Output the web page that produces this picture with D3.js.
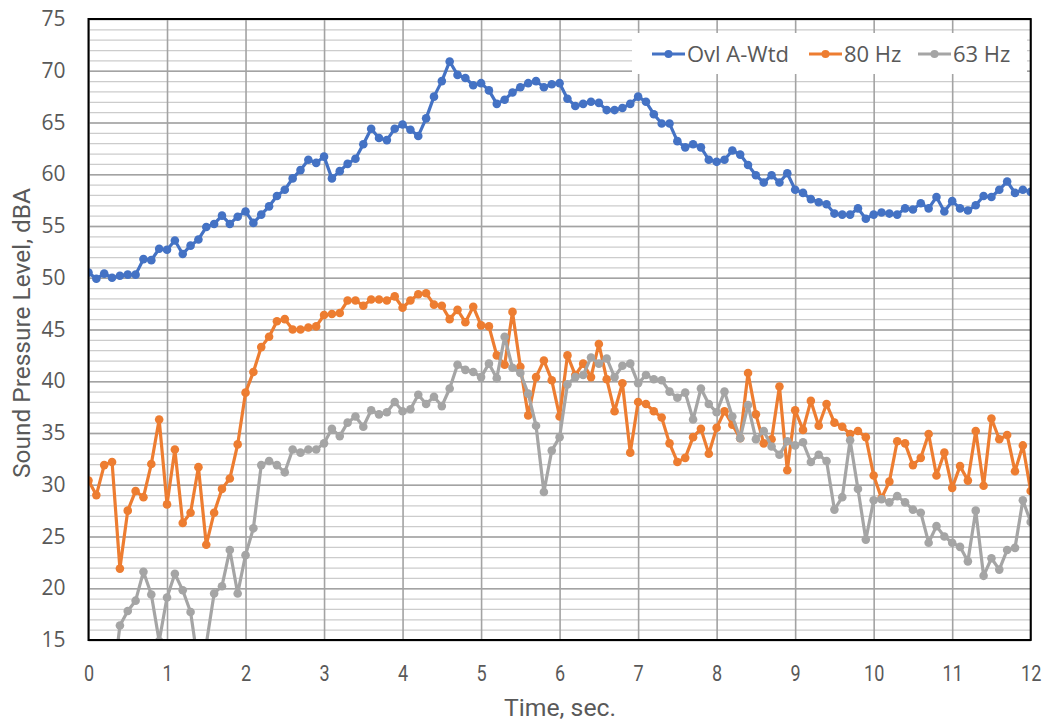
<!DOCTYPE html>
<html>
<head>
<meta charset="utf-8">
<script src="https://cdn.jsdelivr.net/npm/d3@7"></script>
<style>
  html, body { margin: 0; padding: 0; background: #fff; }
  svg { display: block; }
</style>
</head>
<body>
<svg id="chart" width="1048" height="724"></svg>
<script>
// Time axis: samples every 0.1 s from 0 to 12 s
const times = d3.range(121).map(i => +(i * 0.1).toFixed(1));

const seriesNames = ["Ovl A-Wtd", "80 Hz", "63 Hz"];
const seriesColors = ["#4472C4", "#ED7D31", "#A5A5A5"];

const ovlAWtd = [
  50.5, 49.9, 50.4, 50.0, 50.2, 50.3, 50.3, 51.8, 51.7, 52.8,
  52.7, 53.6, 52.3, 53.1, 53.7, 54.9, 55.2, 56.0, 55.2, 55.9,
  56.4, 55.3, 56.1, 56.9, 57.9, 58.5, 59.6, 60.4, 61.4, 61.1,
  61.7, 59.6, 60.3, 61.0, 61.5, 62.9, 64.4, 63.5, 63.3, 64.4,
  64.8, 64.3, 63.7, 65.4, 67.5, 69.0, 70.9, 69.6, 69.3, 68.6,
  68.8, 68.1, 66.8, 67.2, 67.9, 68.4, 68.8, 69.0, 68.4, 68.7,
  68.8, 67.3, 66.6, 66.8, 67.0, 66.9, 66.2, 66.2, 66.4, 66.8,
  67.5, 67.0, 65.8, 64.9, 64.9, 63.2, 62.6, 62.9, 62.6, 61.4,
  61.2, 61.4, 62.3, 61.9, 60.9, 59.9, 59.2, 59.9, 59.2, 60.1,
  58.5, 58.2, 57.6, 57.3, 57.1, 56.2, 56.1, 56.1, 56.7, 55.7,
  56.1, 56.3, 56.2, 56.1, 56.7, 56.6, 57.2, 56.7, 57.8, 56.4,
  57.4, 56.7, 56.5, 57.0, 57.9, 57.8, 58.5, 59.3, 58.2, 58.5,
  58.3
];

const hz80 = [
  30.4, 29.0, 31.9, 32.2, 21.9, 27.5, 29.4, 28.8, 32.0, 36.3,
  28.1, 33.4, 26.3, 27.3, 31.7, 24.2, 27.3, 29.6, 30.6, 33.9,
  38.9, 40.9, 43.3, 44.3, 45.8, 46.0, 45.0, 45.0, 45.2, 45.3,
  46.4, 46.5, 46.6, 47.8, 47.8, 47.3, 47.9, 47.9, 47.8, 48.2,
  47.1, 47.8, 48.4, 48.5, 47.4, 47.3, 46.0, 46.9, 45.7, 47.2,
  45.4, 45.3, 42.5, 41.6, 46.7, 41.4, 36.7, 40.4, 42.0, 40.1,
  36.6, 42.5, 40.6, 41.7, 40.4, 43.6, 40.2, 37.1, 39.8, 33.1,
  38.0, 37.8, 37.1, 36.5, 34.0, 32.2, 32.6, 34.6, 35.4, 33.0,
  35.5, 37.1, 35.8, 34.5, 40.8, 36.8, 34.0, 34.4, 39.5, 31.4,
  37.2, 35.3, 38.1, 35.7, 37.8, 36.0, 35.6, 34.9, 35.2, 34.6,
  30.9, 28.7, 30.3, 34.2, 34.0, 31.9, 32.6, 34.9, 30.9, 33.1,
  29.7, 31.8, 30.4, 35.2, 29.9, 36.4, 34.4, 34.8, 31.3, 33.8,
  29.4
];

const hz63 = [
  12.0, 11.2, 12.5, 10.0, 16.4, 17.8, 18.8, 21.6, 19.4, 14.9,
  19.1, 21.4, 19.8, 17.7, 12.5, 14.6, 19.5, 20.2, 23.7, 19.5,
  23.2, 25.8, 31.9, 32.3, 31.9, 31.2, 33.4, 33.1, 33.4, 33.4,
  34.0, 35.4, 34.7, 36.0, 36.6, 35.6, 37.2, 36.8, 37.0, 38.0,
  37.1, 37.3, 38.7, 37.8, 38.5, 37.6, 39.3, 41.6, 41.1, 40.9,
  40.4, 41.7, 40.3, 44.3, 41.3, 40.8, 38.8, 35.7, 29.3, 33.3,
  34.6, 39.7, 40.4, 40.6, 42.3, 41.7, 42.2, 40.4, 41.5, 41.7,
  39.8, 40.6, 40.2, 40.1, 39.0, 38.4, 38.9, 36.3, 39.3, 37.8,
  37.0, 39.0, 36.6, 34.5, 37.7, 34.4, 35.2, 33.7, 32.9, 34.2,
  33.8, 34.1, 32.2, 32.9, 32.3, 27.6, 28.8, 34.3, 29.6, 24.7,
  28.5, 28.6, 28.3, 28.9, 28.3, 27.6, 27.3, 24.4, 26.0, 25.0,
  24.4, 24.0, 22.6, 27.5, 21.2, 22.9, 21.8, 23.7, 23.9, 28.5,
  26.4
];

const xTicks = d3.range(0, 13, 1);
const yTicks = d3.range(15, 76, 5);
const yMinorTicks = d3.range(15, 76, 1);

const xLabel = "Time, sec.";
const yLabel = "Sound Pressure Level, dBA";

const allSeries = [ovlAWtd, hz80, hz63];

// Plot area
const plotLeft = 88.5, plotRight = 1030.7, plotTop = 19, plotBottom = 640;

const textColor = "#595959";
const wideFont = "'Open Sans', 'DejaVu Sans', sans-serif";
const narrowFont = "Roboto, 'Liberation Sans', sans-serif";

const svg = d3.select("#chart");
const x = d3.scaleLinear().domain([0, 12]).range([plotLeft, plotRight]);
const y = d3.scaleLinear().domain([15, 75]).range([plotBottom, plotTop]);

// Minor horizontal gridlines (every 1 dBA)
svg.append("g")
  .attr("transform", `translate(${plotLeft},0)`)
  .call(d3.axisLeft(y).tickValues(yMinorTicks).tickSize(-(plotRight - plotLeft)).tickFormat(""))
  .call(g => g.select(".domain").remove())
  .call(g => g.selectAll("line").attr("stroke", "#cccccc").attr("stroke-width", 1.3));

// Major horizontal gridlines (every 5 dBA)
svg.append("g")
  .attr("transform", `translate(${plotLeft},0)`)
  .call(d3.axisLeft(y).tickValues(yTicks).tickSize(-(plotRight - plotLeft)).tickFormat(""))
  .call(g => g.select(".domain").remove())
  .call(g => g.selectAll("line").attr("stroke", "#a3a3a3").attr("stroke-width", 1.6));

// Vertical gridlines (every second)
svg.append("g")
  .attr("transform", `translate(0,${plotBottom})`)
  .call(d3.axisBottom(x).tickValues(xTicks).tickSize(-(plotBottom - plotTop)).tickFormat(""))
  .call(g => g.select(".domain").remove())
  .call(g => g.selectAll("line").attr("stroke", "#a3a3a3").attr("stroke-width", 1.6));

// Y tick labels
svg.append("g")
  .attr("transform", `translate(${plotLeft},0)`)
  .call(d3.axisLeft(y).tickValues(yTicks).tickSize(0).tickPadding(23))
  .call(g => g.select(".domain").remove())
  .call(g => g.selectAll("text")
    .attr("fill", textColor)
    .style("font-family", wideFont)
    .style("font-size", "21px"));

// X tick labels (condensed)
svg.append("g")
  .attr("transform", `translate(0,${plotBottom})`)
  .call(d3.axisBottom(x).tickValues(xTicks).tickSize(0))
  .call(g => g.select(".domain").remove())
  .call(g => g.selectAll("text")
    .attr("fill", textColor)
    .attr("y", 41)
    .attr("dy", 0)
    .attr("transform", "scale(0.82,1)")
    .style("font-family", narrowFont)
    .style("font-size", "22px"));

// Axis titles (condensed)
svg.append("text")
  .attr("x", 560)
  .attr("y", 716)
  .attr("text-anchor", "middle")
  .attr("fill", textColor)
  .attr("textLength", 112)
  .attr("lengthAdjust", "spacingAndGlyphs")
  .style("font-family", narrowFont)
  .style("font-size", "23px")
  .text(xLabel);

svg.append("text")
  .attr("transform", `translate(30,333) rotate(-90)`)
  .attr("x", 0).attr("y", 0)
  .attr("text-anchor", "middle")
  .attr("fill", textColor)
  .attr("textLength", 290)
  .attr("lengthAdjust", "spacingAndGlyphs")
  .style("font-family", narrowFont)
  .style("font-size", "23px")
  .text(yLabel);

// Clip lines and markers to the plot area
svg.append("clipPath").attr("id", "plot-clip")
  .append("rect")
  .attr("x", plotLeft).attr("y", plotTop)
  .attr("width", plotRight - plotLeft).attr("height", plotBottom - plotTop);

const plot = svg.append("g").attr("clip-path", "url(#plot-clip)");
const line = d3.line().x((d, i) => x(times[i])).y(d => y(d));

allSeries.forEach((vals, s) => {
  const g = plot.append("g");
  g.append("path")
    .datum(vals)
    .attr("fill", "none")
    .attr("stroke", seriesColors[s])
    .attr("stroke-width", 3.2)
    .attr("stroke-linejoin", "round")
    .attr("d", line);
  g.selectAll("circle")
    .data(vals)
    .join("circle")
    .attr("cx", (d, i) => x(times[i]))
    .attr("cy", d => y(d))
    .attr("r", 4.3)
    .attr("fill", seriesColors[s]);
});

// Plot border
svg.append("rect")
  .attr("x", plotLeft).attr("y", plotTop)
  .attr("width", plotRight - plotLeft).attr("height", plotBottom - plotTop)
  .attr("fill", "none")
  .attr("stroke", "#000")
  .attr("stroke-width", 2);

// Legend
const legend = svg.append("g");
legend.append("rect")
  .attr("x", 632).attr("y", 33)
  .attr("width", 395).attr("height", 41)
  .attr("fill", "#fff");

const legendX = [652, 809, 918];
seriesNames.forEach((name, s) => {
  const lx = legendX[s];
  const ly = 54;
  legend.append("line")
    .attr("x1", lx).attr("x2", lx + 33)
    .attr("y1", ly).attr("y2", ly)
    .attr("stroke", seriesColors[s])
    .attr("stroke-width", 3.2);
  legend.append("circle")
    .attr("cx", lx + 16.5).attr("cy", ly)
    .attr("r", 4)
    .attr("fill", seriesColors[s]);
  legend.append("text")
    .attr("x", lx + 35).attr("y", ly)
    .attr("dy", "0.35em")
    .attr("fill", textColor)
    .style("font-family", wideFont)
    .style("font-size", "22px")
    .text(name);
});
</script>
</body>
</html>
